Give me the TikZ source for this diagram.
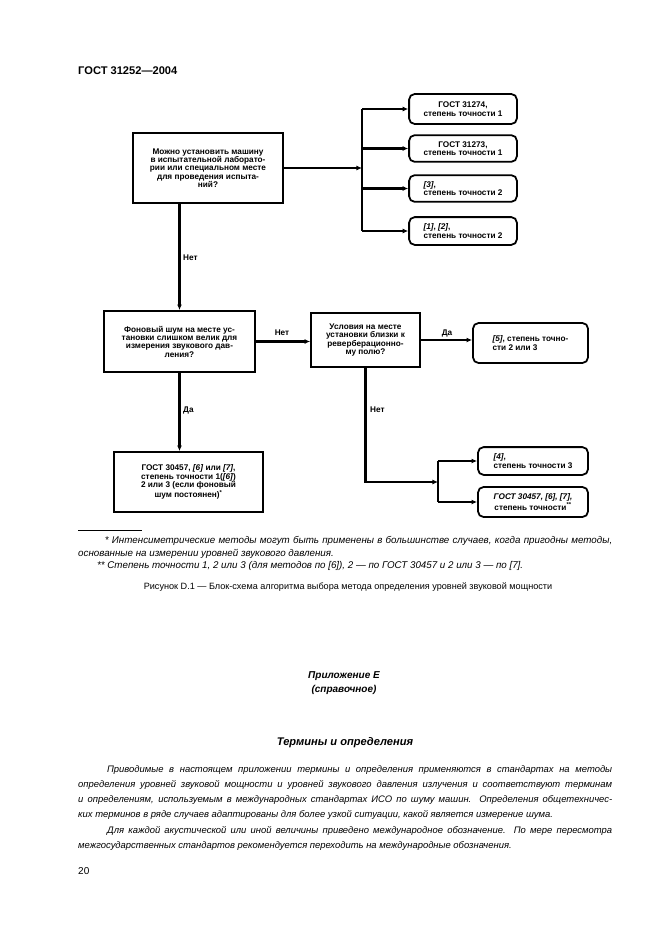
\documentclass[tikz,border=0pt]{standalone}
\usepackage{fontspec}
\setmainfont{Liberation Sans}
\usetikzlibrary{arrows.meta,positioning}

\tikzset{
	qbox/.style={draw,line width=1.6pt,align=center,inner sep=1pt,
		font=\fontsize{7.4}{7.5}\selectfont\bfseries},
	rbox/.style={draw,line width=1.6pt,rounded corners=5pt,align=center,inner sep=1pt,
		minimum width=97pt,font=\fontsize{7.4}{7.5}\selectfont\bfseries},
	conn/.style={line width=2.1pt},
	lbl/.style={inner sep=0pt,font=\fontsize{7.4}{7.5}\selectfont\bfseries},
	bodytext/.style={inner sep=0pt,text width=480.6pt,align=justify,
		font=\fontsize{8.5}{13.6}\selectfont\itshape},
	notetext/.style={inner sep=0pt,text width=480.6pt,align=justify,
		font=\fontsize{8.8}{11.8}\selectfont\itshape}
}

\begin{document}
\begin{tikzpicture}[x=0.9pt,y=-0.9pt,>={Latex[length=5pt,width=4.5pt]}]
	\fill[white] (0,0) rectangle (661,936);
	\useasboundingbox (0,0) rectangle (661,936);
	
	\node[anchor=base west,inner sep=0pt,font=\fontsize{10}{12}\selectfont\bfseries] (head) at (78,74) {ГОСТ 31252—2004};
	
	% questions
	\node[qbox,minimum width=135pt,minimum height=63pt] (q1) at (208,168) {Можно установить машину\\в испытательной лаборато-\\рии или специальном месте\\для проведения испыта-\\ний?};
	\node[qbox,minimum width=136pt,minimum height=55pt] (q2) at (179.5,341.5) {Фоновый шум на месте ус-\\тановки слишком велик для\\измерения звукового дав-\\ления?};
	\node[qbox,minimum width=98pt,minimum height=48.6pt] (q3) at (365.5,340) {Условия на месте\\установки близки к\\реверберационно-\\му полю?};
	
	% methods
	\node[rbox,minimum height=27pt] (r1) at (463,109) {ГОСТ 31274,\\степень точности 1};
	\node[rbox,minimum height=24pt] (r2) at (463,148.5) {ГОСТ 31273,\\степень точности 1};
	\node[rbox,minimum height=24pt,align=left] (r3) at (463,188.5) {\textit{[3]},\\степень точности 2};
	\node[rbox,minimum height=25pt,align=left] (r4) at (463,231) {\textit{[1]}, \textit{[2]},\\степень точности 2};
	\node[rbox,minimum width=103.5pt,minimum height=36pt,align=left] (r5) at (530.5,343) {\textit{[5]}, степень точно-\\сти 2 или 3};
	\node[qbox,minimum width=134pt,minimum height=54pt] (r6) at (188.5,482) {ГОСТ 30457, \textit{[6]} или \textit{[7]},\\степень точности 1(\textit{[6]})\\2 или 3 (если фоновый\\шум постоянен)\textsuperscript{*}};
	\node[rbox,minimum width=99pt,minimum height=25pt,align=left] (r7) at (533,461) {\textit{[4]},\\степень точности 3};
	\node[rbox,minimum width=99pt,minimum height=27pt] (r8) at (533,502) {\textit{ГОСТ 30457, [6], [7],}\\степень точности\textsuperscript{**}};
	
	% connectors
	\coordinate (b1) at (362,168);
	\coordinate (b2) at (438,482);
	\draw[conn,->] (q1.east) -- (b1);
	\draw[conn] (b1 |- r1.west) -- (b1 |- r4.west);
	\foreach \r in {r1,r2,r3,r4}
		\draw[conn,->] (b1 |- \r.west) -- (\r.west);
	\draw[conn,->] (q1.south -| q2.north) -- (q2.north);
	\draw[conn,->] (q2.east) -- (q2.east -| q3.west);
	\draw[conn,->] (q3.east) -- (q3.east -| r5.west);
	\draw[conn,->] (q3.south) |- (b2);
	\draw[conn] (b2 |- r7.west) -- (b2 |- r8.west);
	\foreach \r in {r7,r8}
		\draw[conn,->] (b2 |- \r.west) -- (\r.west);
	\draw[conn,->] (q2.south) -- (q2.south |- r6.north);
	
	\node[lbl,anchor=west] (n1) at (183,258) {Нет};
	\node[lbl] (n2) at (282,333) {Нет};
	\node[lbl] (y1) at (447,333) {Да};
	\node[lbl,anchor=west] (n3) at (370,410) {Нет};
	\node[lbl,anchor=west] (y2) at (183,410) {Да};
	
	% notes and caption
	\draw[line width=0.5pt] (78,530) -- (142,530);
	\node[notetext,anchor=base west] (fn1) at (78,543) {\hspace*{24pt}* Интенсиметрические методы могут быть применены в большинстве случаев, когда пригодны методы,\linebreak основанные на измерении уровней звукового давления.};
	\node[notetext,anchor=base west] (fn2) at (78,568) {\hspace*{17pt}** Степень точности 1, 2 или 3 (для методов по [6]), 2 — по ГОСТ 30457 и 2 или 3 — по [7].};
	\node[anchor=base,inner sep=0pt,font=\fontsize{8.2}{10}\selectfont] (cap) at (348,589) {Рисунок D.1 — Блок-схема алгоритма выбора метода определения уровней звуковой мощности};
	
	\node[anchor=base,inner sep=0pt,align=center,font=\fontsize{9}{12}\selectfont\bfseries\itshape] (app) at (344,692) {Приложение Е\\(справочное)};
	\node[anchor=base,inner sep=0pt,font=\fontsize{10}{12}\selectfont\bfseries\itshape] (ttl) at (345,745) {Термины и определения};
	
	\node[bodytext,anchor=base west] (p1) at (78,772) {\hspace*{26pt}Приводимые в настоящем приложении термины и определения применяются в стандартах на методы\linebreak определения уровней звуковой мощности и уровней звукового давления излучения и соответствуют терминам\linebreak и определениям, используемым в международных стандартах ИСО по шуму машин. Определения общетехничес-\linebreak ких терминов в ряде случаев адаптированы для более узкой ситуации, какой является измерение шума.};
	\node[bodytext,anchor=base west] (p2) at (78,833) {\hspace*{26pt}Для каждой акустической или иной величины приведено международное обозначение. По мере пересмотра\linebreak межгосударственных стандартов рекомендуется переходить на международные обозначения.};
	\node[anchor=base west,inner sep=0pt,font=\fontsize{9}{11}\selectfont] (pg) at (78,874) {20};
\end{tikzpicture}
\end{document}
